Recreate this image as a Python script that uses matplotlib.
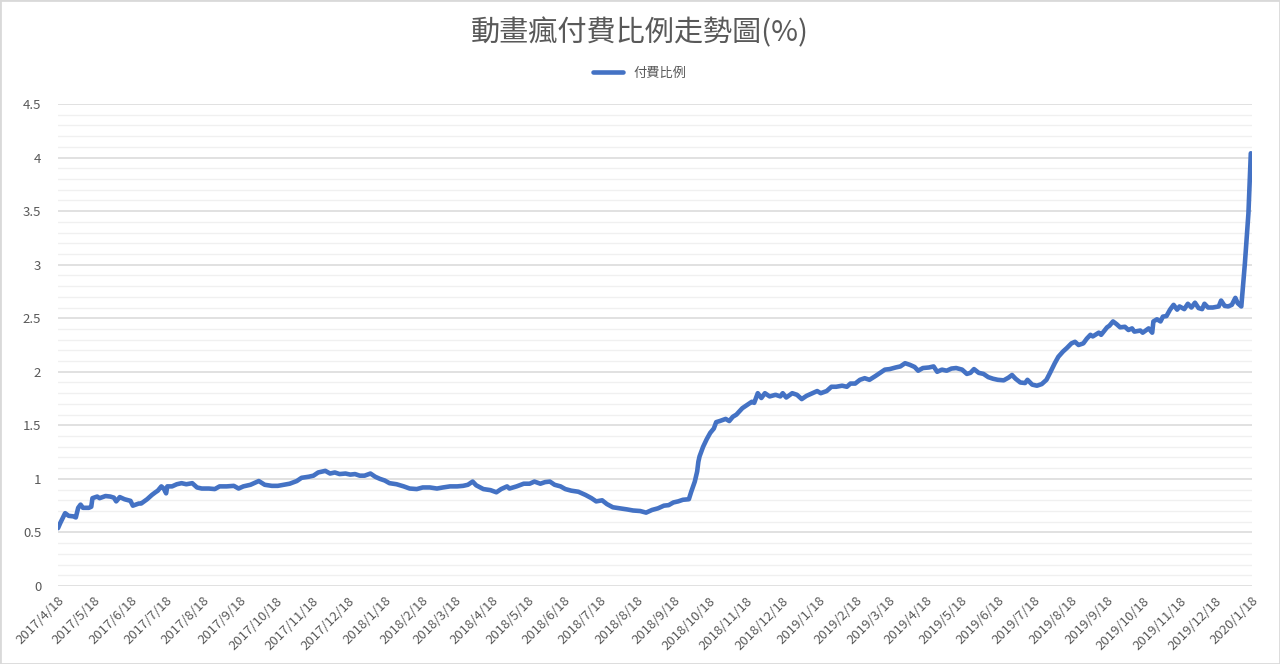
import matplotlib
matplotlib.use("Agg")
import matplotlib.pyplot as plt
from matplotlib.patches import Rectangle
from matplotlib.ticker import MultipleLocator
import pandas as pd

plt.rcParams['font.family'] = ['Noto Sans CJK TC', 'DejaVu Sans']

title = "動畫瘋付費比例走勢圖(%)"
series_name = "付費比例"
start_date = "2017-04-18"
end_date = "2020-01-18"

# days since start_date
days = [0, 2, 6, 9, 13, 15, 17, 19, 21, 26, 28, 29, 33, 35, 40, 44, 47, 49, 52, 56,
        61, 63, 68, 70, 75, 79, 82, 84, 87, 89, 91, 92, 96, 100, 104, 108, 113, 117, 121, 127,
        132, 136, 142, 148, 152, 156, 162, 169, 174, 180, 185, 190, 195,
        201, 205, 211, 215, 219, 225, 229, 233, 237, 242, 246, 250, 254, 258, 263, 267, 271, 275,
        279, 285, 291, 296, 302, 307, 313, 319, 324, 330, 336, 341, 345, 349, 352, 358, 364, 369,
        373, 378, 380, 386, 392, 397,
        401, 406, 410, 414, 418, 423, 427, 432, 438, 444, 449, 453, 458, 462, 467, 473, 479, 484,
        490, 495, 500, 505, 510, 514, 518, 522, 526, 531, 533, 536, 538, 539,
        540, 543, 546, 549, 552, 554, 557, 562, 565, 568, 571, 576, 580, 584, 586, 589, 592, 595,
        599, 604, 608, 610, 613, 618, 622, 626, 630, 634, 639, 642, 647, 651, 655, 660, 664, 667,
        671, 675, 679, 683, 688, 692, 696, 700,
        705, 709, 713, 717, 721, 724, 728, 733, 737, 740, 744, 748, 752, 756, 761, 765, 768, 771,
        775, 779, 783, 787, 791, 796, 800, 803, 806, 810, 814, 816, 820, 824, 828, 832, 835, 839, 842,
        846, 849, 853, 856, 859, 863, 866, 869, 871, 876, 878, 883, 885, 888, 891, 894, 898, 901,
        904, 906, 911, 913, 918, 921, 922, 925, 928, 930, 933, 936, 939, 942, 944, 948, 951, 954,
        957, 960, 963, 965, 968, 972, 977, 979, 982, 985, 988, 991, 993, 996, 999, 1002, 1004]

paid_ratio = [0.54, 0.59, 0.68, 0.655, 0.65, 0.64, 0.73, 0.76, 0.73, 0.73, 0.74, 0.82, 0.835, 0.82,
              0.84, 0.835, 0.825, 0.79, 0.83, 0.81, 0.795, 0.75, 0.77, 0.77, 0.81, 0.85, 0.875, 0.89,
              0.93, 0.91, 0.865, 0.93, 0.93, 0.95, 0.96, 0.95, 0.96, 0.92, 0.91, 0.91, 0.905, 0.93,
              0.93, 0.935, 0.91, 0.93, 0.945, 0.98, 0.945, 0.935, 0.935, 0.945, 0.955,
              0.98, 1.01, 1.02, 1.03, 1.06, 1.075, 1.05, 1.06, 1.045, 1.05, 1.04, 1.045, 1.03, 1.03,
              1.05, 1.02, 1.0, 0.985, 0.96, 0.95, 0.93, 0.91, 0.905, 0.92, 0.92, 0.91, 0.92, 0.93,
              0.93, 0.935, 0.945, 0.975, 0.94, 0.905, 0.895, 0.875, 0.905, 0.93, 0.91, 0.93, 0.955, 0.955,
              0.975, 0.955, 0.97, 0.975, 0.945, 0.93, 0.905, 0.89, 0.88, 0.85, 0.82, 0.79, 0.80, 0.765,
              0.735, 0.725, 0.715, 0.705, 0.70, 0.685, 0.71, 0.725, 0.75, 0.755, 0.78, 0.79, 0.805,
              0.81, 0.88, 0.975, 1.07, 1.16,
              1.21, 1.30, 1.37, 1.43, 1.47, 1.53, 1.54, 1.56, 1.54, 1.58, 1.60, 1.66, 1.69, 1.72, 1.71,
              1.80, 1.755, 1.80, 1.77, 1.785, 1.77, 1.80, 1.76, 1.80, 1.785, 1.745, 1.775, 1.795, 1.82,
              1.80, 1.82, 1.86, 1.86, 1.87, 1.86, 1.89, 1.89, 1.925, 1.94, 1.925, 1.96, 1.99, 2.02, 2.025,
              2.04, 2.05, 2.08, 2.065, 2.045, 2.01, 2.035, 2.04, 2.05, 2.0, 2.02, 2.01, 2.03, 2.035,
              2.02, 1.98, 1.99, 2.025, 1.99, 1.98, 1.95, 1.935, 1.925, 1.92, 1.945, 1.97, 1.935, 1.90,
              1.895, 1.925, 1.88, 1.87, 1.885, 1.925, 1.99, 2.08, 2.14,
              2.19, 2.22, 2.265, 2.28, 2.25, 2.265, 2.31, 2.345, 2.33, 2.365, 2.345, 2.415, 2.43, 2.47,
              2.445, 2.415, 2.42, 2.39, 2.405, 2.375, 2.385, 2.365, 2.405, 2.365, 2.47, 2.49, 2.47,
              2.515, 2.52, 2.58, 2.625, 2.58, 2.61, 2.585, 2.635, 2.60, 2.645, 2.595, 2.585, 2.635,
              2.60, 2.60, 2.61, 2.665, 2.615, 2.61, 2.625, 2.69, 2.64, 2.61, 3.01, 3.48, 4.04]

y_max = 4.5
y_major = 0.5
y_minor = 0.1

start = pd.Timestamp(start_date)
end = pd.Timestamp(end_date)
dates = start + pd.to_timedelta(days, unit="D")
tick_dates = pd.date_range(start, end, freq=pd.DateOffset(months=1))
tick_labels = [f"{d.year}/{d.month}/{d.day}" for d in tick_dates]

fig = plt.figure(figsize=(12.8, 6.64), dpi=100)
ax = fig.add_axes([58 / 1280, 1 - 586 / 664, (1252 - 58) / 1280, (586 - 104) / 664])

ax.plot(dates, paid_ratio, color="#4472C4", lw=3.3, solid_joinstyle="round",
        solid_capstyle="round", label=series_name, zorder=3)

ax.set_xlim(start, end)
ax.set_ylim(0, y_max)
ax.yaxis.set_major_locator(MultipleLocator(y_major))
ax.yaxis.set_minor_locator(MultipleLocator(y_minor))
ax.grid(axis="y", which="major", color="#D9D9D9", lw=1.1, zorder=0)
ax.grid(axis="y", which="minor", color="#F0F0F0", lw=1.0, zorder=0)
ax.set_axisbelow(True)
ax.set_xticks(tick_dates)
ax.set_xticklabels(tick_labels, rotation=45, ha="right", va="top",
                   rotation_mode="anchor", fontsize=9.5, color="#595959")
ax.tick_params(axis="x", length=0, pad=6)
ax.tick_params(axis="y", which="both", length=0, pad=12, labelsize=9.5, labelcolor="#595959")
ax.yaxis.set_major_formatter(matplotlib.ticker.FuncFormatter(lambda v, p: f"{v:g}"))
for s in ax.spines.values():
    s.set_visible(False)

fig.text(0.5, 1 - 33 / 664, title, ha="center", va="center", fontsize=21, color="#595959")
fig.legend(loc="center", bbox_to_anchor=(0.5, 1 - 73 / 664), frameon=False, fontsize=9.5,
           handlelength=2.3, labelcolor="#595959")

fig.patches.append(Rectangle((0, 0), 1, 1, transform=fig.transFigure, fill=False,
                             edgecolor="#D9D9D9", lw=2))

fig.savefig("out.png", dpi=100)
